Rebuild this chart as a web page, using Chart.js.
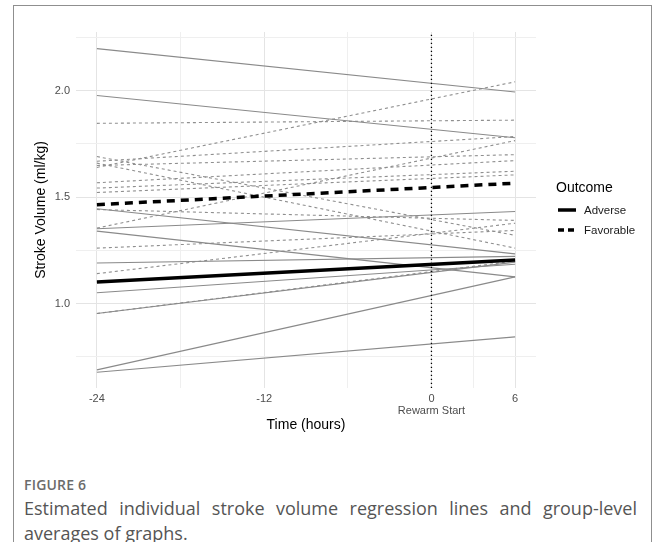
<!DOCTYPE html>
<html>
<head>
<meta charset="utf-8">
<script src="https://cdn.jsdelivr.net/npm/chart.js@4.4.1/dist/chart.umd.min.js"></script>
<style>
  html, body { margin: 0; padding: 0; background: #ffffff; }
  body { width: 656px; height: 542px; position: relative; overflow: hidden; }
  #frame { position: absolute; left: 13px; top: 5px; width: 639px; height: 600px; border: 1px solid #8f8f8f; box-sizing: border-box; }
  #wrap { position: absolute; left: 0; top: 0; width: 656px; height: 440px; }
  #legend { position: absolute; left: 556px; top: 178px; font-family: "Liberation Sans", Arial, sans-serif; color: #000; }
  #legend .title { font-size: 14px; line-height: 18px; }
  #legend .item { position: absolute; left: 1px; width: 100px; height: 14px; font-size: 11.5px; line-height: 14px; color: #1a1a1a; }
  #legend .item svg { position: absolute; left: 0; top: 4px; }
  #legend .item span { position: absolute; left: 27px; top: 0; }
  #fig { position: absolute; left: 24px; top: 476px; font-family: "Open Sans", sans-serif; font-weight: 600; font-size: 14px; line-height: 18px; color: #6b6b6b; letter-spacing: 0.2px; }
  .cap { position: absolute; left: 24px; width: 613px; font-family: "Open Sans", sans-serif; font-size: 18px; line-height: 25px; color: #555555; white-space: nowrap; }
  #cap1 { top: 496px; text-align: justify; text-align-last: justify; white-space: normal; }
  #cap2 { top: 521px; }
</style>
</head>
<body>
<div id="frame"></div>
<div id="wrap"><canvas id="c" width="656" height="440"></canvas></div>
<div id="legend">
  <div class="title">Outcome</div>
  <div class="item" style="top:25px"><svg width="20" height="6"><line x1="1" y1="3" x2="19" y2="3" stroke="#000" stroke-width="3.5"/></svg><span>Adverse</span></div>
  <div class="item" style="top:45px"><svg width="20" height="6"><line x1="1" y1="3" x2="19" y2="3" stroke="#000" stroke-width="3.5" stroke-dasharray="6,4"/></svg><span>Favorable</span></div>
</div>
<div id="fig">FIGURE 6</div>
<div class="cap" id="cap1">Estimated individual stroke volume regression lines and group-level</div>
<div class="cap" id="cap2">averages of graphs.</div>
<script>
// ---- data ----
const timePoints = [-24, 6];
const adverseStart = [2.198, 1.978, 1.446, 1.352, 1.341, 1.191, 1.051, 0.954, 0.689, 0.678];
const adverseEnd   = [1.994, 1.779, 1.234, 1.433, 1.126, 1.222, 1.185, 1.195, 1.126, 0.844];
const favorableStart = [1.847, 1.640, 1.669, 1.355, 1.649, 1.568, 1.543, 1.522, 1.442, 1.141, 1.261, 1.691, 1.660, 0.954];
const favorableEnd   = [1.862, 2.042, 1.785, 1.766, 1.700, 1.672, 1.622, 1.605, 1.391, 1.378, 1.344, 1.321, 1.261, 1.200];
const meanAdverse   = [1.102, 1.205];
const meanFavorable = [1.465, 1.566];
const xMajorTicks = [-24, -12, 0, 6];
const xMinorTicks = [-18, -6, 3];
const yMajorTicks = [1.0, 1.5, 2.0];
const yMinorTicks = [0.75, 1.25, 1.75, 2.25];
const rewarmTime = 0;
const rewarmLabel = 'Rewarm Start';
const xRange = [-25.5, 7.5];
const yRange = [0.604, 2.276];

// ---- build datasets ----
function seg(a, b) { return [{x: timePoints[0], y: a}, {x: timePoints[1], y: b}]; }
const datasets = [];
datasets.push({ data: seg(meanAdverse[0], meanAdverse[1]), borderColor: '#000', borderWidth: 3.5, order: 0 });
datasets.push({ data: seg(meanFavorable[0], meanFavorable[1]), borderColor: '#000', borderWidth: 3.5, borderDash: [8, 6], order: 0 });
datasets.push({ data: [{x: rewarmTime, y: yRange[0]}, {x: rewarmTime, y: yRange[1]}], borderColor: '#000', borderWidth: 1.3, borderDash: [1.3, 2.7], order: 1 });
adverseStart.forEach((v, i) => datasets.push({ data: seg(v, adverseEnd[i]), borderColor: '#8a8a8a', borderWidth: 1.1, order: 2 }));
favorableStart.forEach((v, i) => datasets.push({ data: seg(v, favorableEnd[i]), borderColor: '#8f8f8f', borderWidth: 1.1, borderDash: [3, 3], order: 3 }));
datasets.forEach(d => { d.showLine = true; d.pointRadius = 0; d.fill = false; d.tension = 0; d.borderCapStyle = 'butt'; });

const xAll = xMinorTicks.concat(xMajorTicks).sort((a, b) => a - b);
const yAll = yMinorTicks.concat(yMajorTicks).sort((a, b) => a - b);
const tickFont = { family: '"Liberation Sans", Arial, sans-serif', size: 11, lineHeight: 1.1 };
const titleFont = { family: '"Liberation Sans", Arial, sans-serif', size: 14, lineHeight: 1.2 };

new Chart(document.getElementById('c'), {
  type: 'scatter',
  data: { datasets },
  options: {
    responsive: false,
    animation: false,
    events: [],
    layout: { padding: { left: 30, top: 32, right: 120, bottom: 6 } },
    plugins: { legend: { display: false }, tooltip: { enabled: false } },
    scales: {
      x: {
        type: 'linear', min: xRange[0], max: xRange[1],
        afterBuildTicks: s => { s.ticks = xAll.map(v => ({ value: v })); },
        afterFit: s => { s.height = 46; },
        border: { display: false },
        grid: {
          drawTicks: false,
          color: c => xMajorTicks.includes(c.tick.value) ? '#e4e4e4' : '#efefef',
          lineWidth: 1
        },
        ticks: {
          padding: 5, color: '#4d4d4d', font: tickFont, maxRotation: 0, autoSkip: false,
          callback: v => xMajorTicks.includes(v) ? (v === rewarmTime ? [String(v), rewarmLabel] : String(v)) : ''
        },
        title: { display: true, text: 'Time (hours)', color: '#000', font: titleFont, padding: { top: 0, bottom: 0 } }
      },
      y: {
        type: 'linear', min: yRange[0], max: yRange[1],
        afterBuildTicks: s => { s.ticks = yAll.map(v => ({ value: v })); },
        afterFit: s => { s.width = 46; },
        border: { display: false },
        grid: {
          drawTicks: false,
          color: c => yMajorTicks.includes(c.tick.value) ? '#e4e4e4' : '#efefef',
          lineWidth: 1
        },
        ticks: {
          padding: 6, color: '#4d4d4d', font: tickFont,
          callback: v => yMajorTicks.includes(v) ? v.toFixed(1) : ''
        },
        title: { display: true, text: 'Stroke Volume (ml/kg)', color: '#000', font: titleFont, padding: { top: 3, bottom: 0 } }
      }
    }
  }
});
</script>
</body>
</html>
